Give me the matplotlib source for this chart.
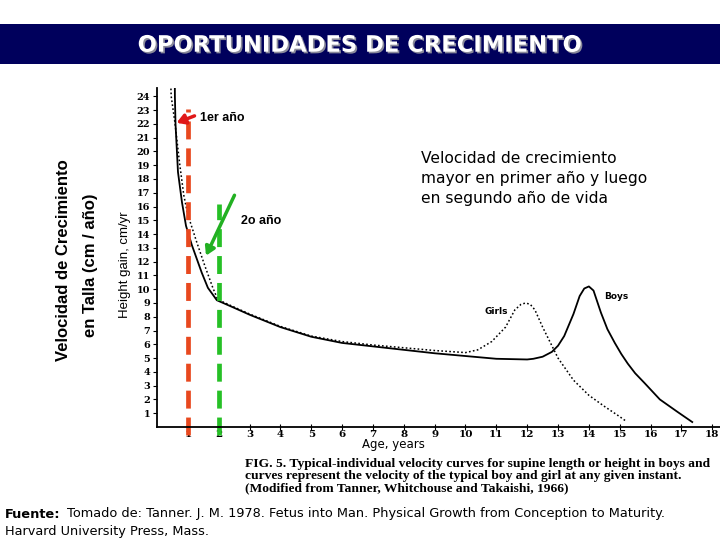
import numpy as np
import matplotlib
matplotlib.use("Agg")
import matplotlib.pyplot as plt
import matplotlib.patheffects as pe

# growth velocity curves (Tanner 1978)
boys_age = [0.575, 0.58, 0.6, 0.68, 0.81, 0.94, 1.13, 1.45, 1.65, 1.94,
            2.5, 3, 4, 5, 6, 7, 8, 9, 10, 11, 12, 12.2, 12.5, 12.8, 13.0,
            13.2, 13.5, 13.7, 13.85, 14.0, 14.15, 14.39, 14.6, 14.84, 15.05, 15.26,
            15.5, 15.8, 16.3, 16.87, 17.35]
boys_vel = [26, 24, 22, 18.5, 16.3, 14.6, 13.2, 11.2, 10.1, 9.2,
            8.65, 8.15, 7.25, 6.55, 6.1, 5.85, 5.6, 5.35, 5.15, 4.95, 4.9, 4.95, 5.1, 5.45, 5.9,
            6.6, 8.2, 9.5, 10.05, 10.2, 9.9, 8.3, 7.1, 6.1, 5.3, 4.6,
            3.9, 3.2, 2.0, 1.1, 0.36]

girls_age = [0.43, 0.46, 0.58, 0.74, 0.87, 1.0, 1.29, 1.55, 1.81, 1.97, 2.5, 3, 4, 5, 6, 7, 8,
             9, 10, 10.4, 10.85, 11.3, 11.6, 11.8, 11.95, 12.1, 12.25, 12.5,
             13.0, 13.5, 14.0, 14.5, 15.0, 15.2]
girls_vel = [26, 24, 22.1, 19, 16.8, 15.4, 13.4, 11.7, 10.1, 9.25, 8.7, 8.2, 7.3, 6.6, 6.2, 5.95, 5.75,
             5.55, 5.4, 5.6, 6.2, 7.25, 8.5, 8.9, 9.0, 8.9, 8.5, 7.25,
             5.0, 3.4, 2.3, 1.5, 0.75, 0.43]

x_ticks = list(range(1, 19))
y_ticks = list(range(1, 25))
first_year = 1
second_year = 2

title = "OPORTUNIDADES DE CRECIMIENTO"
caption = ["FIG. 5. Typical-individual velocity curves for supine length or height in boys and",
           "curves represent the velocity of the typical boy and girl at any given instant.",
           "(Modified from Tanner, Whitchouse and Takaishi, 1966)"]

fig = plt.figure(figsize=(7.2, 5.4), dpi=100)
W, H = 720.0, 540.0

# title bar
bar = fig.add_axes([0, 1 - 64 / H, 1, 40 / H])
bar.set_facecolor("#00005c")
bar.set_xticks([])
bar.set_yticks([])
for s in bar.spines.values():
    s.set_visible(False)
bar.text(0.5, 0.47, title, color="white", fontsize=16.3, fontweight="bold",
         ha="center", va="center", transform=bar.transAxes,
         path_effects=[pe.withSimplePatchShadow(offset=(1.2, -1.2), shadow_rgbFace="#8a8a9a",
                                                alpha=1.0)])

# scanned chart
ax = fig.add_axes([157 / W, (H - 427) / H, (W - 157) / W, (427 - 88) / H])
ax.plot(boys_age, boys_vel, color="black", lw=1.3)
ax.plot(girls_age, girls_vel, color="black", lw=1.1, linestyle=(0, (1.1, 1.5)))
ax.set_xlim(0, 18.25)
ax.set_ylim(0, 24.6)
ax.spines["top"].set_visible(False)
ax.spines["right"].set_visible(False)
ax.spines["left"].set_linewidth(1.3)
ax.spines["bottom"].set_linewidth(1.3)
ax.set_xticks(x_ticks)
ax.set_yticks(y_ticks)
ax.tick_params(axis="y", direction="out", length=3, pad=2, labelsize=7)
ax.tick_params(axis="x", direction="inout", length=5, pad=0, labelsize=7.5)
for lab in ax.get_xticklabels() + ax.get_yticklabels():
    lab.set_family("DejaVu Serif")
    lab.set_fontweight("bold")
ax.text(-1.05, 11.75, "Height gain, cm/yr", rotation=90, fontsize=9.5,
        ha="center", va="center", family="Liberation Sans")
ax.text(7.65, -1.3, "Age, years", fontsize=8.5, ha="center", va="center",
        family="DejaVu Sans")
ax.text(11.0, 8.4, "Girls", fontsize=6.5, fontweight="bold", ha="center", va="center")
ax.text(14.9, 9.5, "Boys", fontsize=6.5, fontweight="bold", ha="center", va="center")

# highlight first and second year
ax.plot([first_year, first_year], [-0.6, 23.1], color="#e8481e", lw=3.4,
        linestyle=(0, (3.8, 1.9)), clip_on=False, solid_capstyle="butt")
ax.plot([second_year, second_year], [-0.6, 16.2], color="#26c026", lw=3.4,
        linestyle=(0, (3.8, 1.9)), clip_on=False, solid_capstyle="butt")
ax.annotate("", xy=(0.55, 22.0), xytext=(1.3, 22.65),
            arrowprops=dict(arrowstyle="-|>,head_length=0.5,head_width=0.3",
                            color="#e01818", lw=2.5))
ax.annotate("", xy=(1.55, 12.25), xytext=(2.55, 17.0),
            arrowprops=dict(arrowstyle="-|>,head_length=0.5,head_width=0.3",
                            color="#22b022", lw=2.5))
ax.text(1.4, 22.45, "1er año", fontsize=9, fontweight="bold", ha="left", va="center",
        family="Liberation Sans")
ax.text(2.72, 14.95, "2o año", fontsize=9, fontweight="bold", ha="left", va="center",
        family="Liberation Sans")
ax.text(8.55, 20.05, "Velocidad de crecimiento\nmayor en primer año y luego\nen segundo año de vida",
        fontsize=11.2, ha="left", va="top", linespacing=1.42)

# y label of the slide
fig.text(64 / W, 1 - 260 / H, "Velocidad de Crecimiento", rotation=90, fontsize=12,
         fontweight="bold", ha="center", va="center", family="Liberation Sans")
fig.text(90 / W, 1 - 265 / H, "en Talla (cm / año)", rotation=90, fontsize=12,
         fontweight="bold", ha="center", va="center", family="Liberation Sans")

# figure caption of the scan
cap = fig.add_axes([0, 0, 1, 1], facecolor="none")
cap.set_xlim(0, W)
cap.set_ylim(H, 0)
cap.axis("off")
for i, line in enumerate(caption):
    cap.text(245, 464 + 12 * i, line, fontsize=9.7, family="Liberation Serif",
             fontweight="bold", ha="left", va="center")

# source
cap.text(5, 514, "Fuente:", fontsize=9.3, fontweight="bold", ha="left", va="center")
cap.text(67, 514, "Tomado de: Tanner. J. M. 1978. Fetus into Man. Physical Growth from Conception to Maturity.",
         fontsize=9.3, ha="left", va="center")
cap.text(5, 531, "Harvard University Press, Mass.", fontsize=9.3, ha="left", va="center")

fig.savefig("out.png", dpi=100)
